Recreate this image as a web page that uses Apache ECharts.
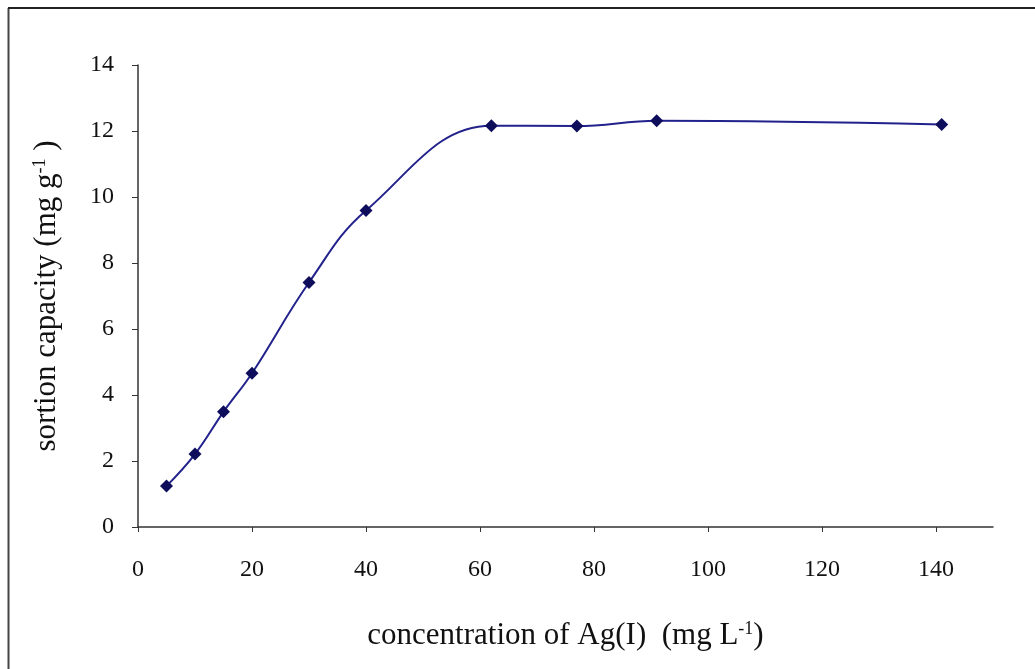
<!DOCTYPE html>
<html>
<head>
<meta charset="utf-8">
<script src="https://cdn.jsdelivr.net/npm/echarts@6/dist/echarts.min.js"></script>
<style>
html,body{margin:0;padding:0;background:#fff;}
#chart{width:1035px;height:669px;}
</style>
</head>
<body>
<div id="chart"></div>
<script>
const concentration = [5, 10, 15, 20, 30, 40, 62, 77, 91, 141];
const sorption = [1.24, 2.21, 3.49, 4.66, 7.41, 9.59, 12.16, 12.15, 12.31, 12.2];
const xTicks = [0, 20, 40, 60, 80, 100, 120, 140];
const yTicks = [0, 2, 4, 6, 8, 10, 12, 14];

const font = 'Liberation Serif';
const chart = echarts.init(document.getElementById('chart'));
chart.setOption({
  animation: false,
  backgroundColor: '#fff',
  graphic: [
    {type: 'line', shape: {x1: 8.5, y1: 8, x2: 8.5, y2: 669}, style: {stroke: '#444', lineWidth: 2}},
    {type: 'line', shape: {x1: 8, y1: 8, x2: 1035, y2: 8}, style: {stroke: '#222', lineWidth: 2}}
  ],
  grid: {left: 138, right: 42, top: 65, bottom: 142, containLabel: false},
  xAxis: {
    type: 'value', min: 0, max: 150, interval: 20,
    name: 'concentration of Ag(I)  (mg L{sup|-1})',
    nameLocation: 'middle', nameGap: 93,
    nameTextStyle: {fontFamily: font, fontSize: 31, color: '#111',
      rich: {sup: {fontFamily: font, fontSize: 18, color: '#111', verticalAlign: 'top', padding: [0,0,13,0]}}},
    axisLine: {lineStyle: {color: '#333', width: 1.5}},
    axisTick: {show: true, length: 5, inside: false, customValues: xTicks, lineStyle: {color: '#333'}},
    axisLabel: {fontFamily: font, fontSize: 24, color: '#111', margin: 31,
      customValues: xTicks, formatter: v => String(v)},
    splitLine: {show: false}
  },
  yAxis: {
    type: 'value', min: 0, max: 14, interval: 2,
    name: 'sortion capacity (mg g{sup|-1} )',
    nameLocation: 'middle', nameGap: 76,
    nameTextStyle: {fontFamily: font, fontSize: 31, color: '#111',
      rich: {sup: {fontFamily: font, fontSize: 18, color: '#111', verticalAlign: 'top', padding: [0,0,13,0]}}},
    axisLine: {show: true, lineStyle: {color: '#333', width: 1.5}},
    axisTick: {show: true, length: 6, inside: false, lineStyle: {color: '#333'}},
    axisLabel: {fontFamily: font, fontSize: 24, color: '#111', margin: 24,
      formatter: v => yTicks.includes(v) ? String(v) : ''},
    splitLine: {show: false}
  },
  series: [{
    type: 'line',
    data: concentration.map((x, i) => [x, sorption[i]]),
    smooth: 0.4,
    symbol: 'diamond', symbolSize: 13,
    lineStyle: {color: '#22228c', width: 2},
    itemStyle: {color: '#0d0d5c'}
  }]
});
</script>
</body>
</html>
